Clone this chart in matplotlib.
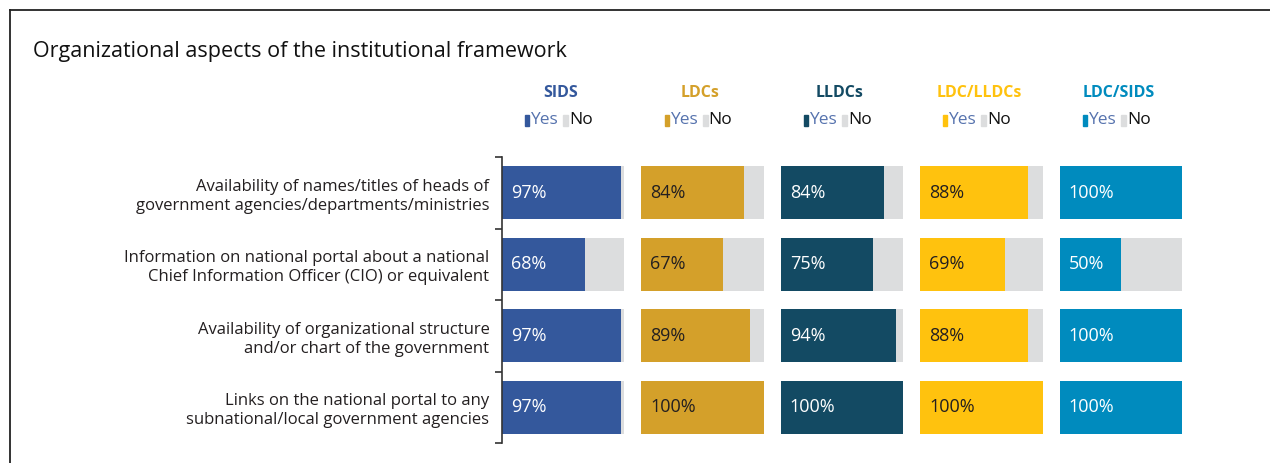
import numpy as np
import matplotlib.pyplot as plt
from matplotlib.patches import Rectangle

plt.rcParams['font.family'] = ['Open Sans', 'DejaVu Sans']

questions = [
    "Availability of names/titles of heads of\ngovernment agencies/departments/ministries",
    "Information on national portal about a national\nChief Information Officer (CIO) or equivalent",
    "Availability of organizational structure\nand/or chart of the government",
    "Links on the national portal to any\nsubnational/local government agencies",
]
groups = ["SIDS", "LDCs", "LLDCs", "LDC/LLDCs", "LDC/SIDS"]

# share of "Yes" answers (%)
sids = [97, 68, 97, 97]
ldcs = [84, 67, 89, 100]
lldcs = [84, 75, 94, 100]
ldc_lldcs = [88, 69, 88, 100]
ldc_sids = [100, 50, 100, 100]
values = [sids, ldcs, lldcs, ldc_lldcs, ldc_sids]

colors = ["#34589C", "#D4A02A", "#134A63", "#FFC20E", "#008BBE"]
text_colors = ["white", "#231F20", "white", "#231F20", "white"]
no_color = "#DCDDDE"
yes_text = "#5673AE"

W, H = 1270, 463
fig = plt.figure(figsize=(W / 100, H / 100), dpi=100)

# frame lines (top and left)
fig.add_artist(plt.Line2D([10 / W, 1], [1 - 10 / H, 1 - 10 / H], color="#222222", lw=1.3))
fig.add_artist(plt.Line2D([10 / W, 10 / W], [0, 1 - 10 / H], color="#222222", lw=1.3))

fig.text(33 / W, 1 - 52 / H, "Organizational aspects of the institutional framework",
         fontsize=15.5, color="#111111", va="center")

ax = fig.add_axes([502 / W, 1 - 443 / H, 680 / W, 286 / H])

pitch = 114.1
y = np.arange(len(questions))
px = 680 / (4 * pitch + 100)  # pixels per data unit (x)
py = 71.5                      # pixels per data unit (y)

for g, (name, vals) in enumerate(zip(groups, values)):
    x0 = g * pitch
    ax.barh(y, 100, left=x0, height=0.74, color=no_color)
    ax.barh(y, vals, left=x0, height=0.74, color=colors[g])
    for yi, v in zip(y, vals):
        ax.text(x0 + 9 / px, yi, f"{v}%", va="center", ha="left",
                fontsize=13, color=text_colors[g])
    cx = x0 + 50
    ax.text(cx - 2 / px, -0.5 - 64 / py, name, ha="center", va="center",
            fontsize=11.5, fontweight="bold", color=colors[g], clip_on=False)
    # legend
    ly = -0.5 - 37 / py
    lx = cx - 38 / px
    ax.add_patch(Rectangle((lx, ly - 5 / py), 4 / px, 11 / py, color=colors[g], clip_on=False))
    ax.text(lx + 5 / px, ly, "Yes", ha="left", va="center", fontsize=12.5,
            color=yes_text, clip_on=False)
    ax.add_patch(Rectangle((lx + 38 / px, ly - 5 / py), 5 / px, 11 / py, color=no_color, clip_on=False))
    ax.text(lx + 44 / px, ly, "No", ha="left", va="center", fontsize=12.5,
            color="#111111", clip_on=False)

ax.set_xlim(0, 4 * pitch + 100)
ax.set_ylim(3.5, -0.5)
ax.set_yticks(y)
ax.set_yticklabels(questions, fontsize=12, color="#231F20", linespacing=1.25)
ax.tick_params(axis="y", which="major", length=0, pad=9)
ax.set_yticks(np.arange(-0.5, 4, 1), minor=True)
ax.tick_params(axis="y", which="minor", length=5, width=1.2, color="#333333")
ax.set_xticks([])
for s in ["top", "right", "bottom"]:
    ax.spines[s].set_visible(False)
ax.spines["left"].set_color("#333333")
ax.spines["left"].set_linewidth(1.2)

fig.savefig("out.png", dpi=100)
plt.close(fig)
